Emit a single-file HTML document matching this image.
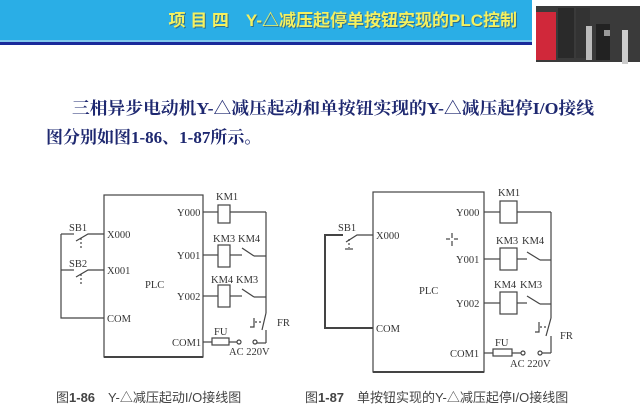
<!DOCTYPE html>
<html><head><meta charset="utf-8"><style>
body{margin:0;background:#fff;}
svg{display:block;}
</style></head><body>
<svg width="640" height="416" viewBox="0 0 640 416" xmlns="http://www.w3.org/2000/svg" font-family="Liberation Serif, serif">
<!-- header -->
<rect x="0" y="0" width="532" height="40" fill="#2aaee6"/>
<rect x="0" y="40" width="532" height="2" fill="#7fc8ee"/>
<rect x="0" y="42" width="532" height="3" fill="#1a2a9a"/>
<text x="517" y="26" text-anchor="end" font-family="Liberation Sans, 'Noto Sans CJK SC', sans-serif" font-weight="bold" font-size="17" fill="#333" opacity="0.5" transform="translate(1,1)">项 目 四　Y-△减压起停单按钮实现的PLC控制</text>
<text x="517" y="26" text-anchor="end" font-family="Liberation Sans, 'Noto Sans CJK SC', sans-serif" font-weight="bold" font-size="17" fill="#f4f060">项 目 四　Y-△减压起停单按钮实现的PLC控制</text>
<!-- PLC image -->
<rect x="536" y="6" width="104" height="56" fill="#3a3a3a"/>
<rect x="536" y="12" width="20" height="48" fill="#d0283a"/>
<rect x="558" y="8" width="16" height="50" fill="#2a2a2a"/>
<rect x="576" y="8" width="14" height="50" fill="#333"/>
<rect x="586" y="26" width="6" height="34" fill="#bbb"/>
<rect x="596" y="24" width="14" height="36" fill="#222"/>
<rect x="604" y="30" width="6" height="6" fill="#999"/>
<rect x="622" y="30" width="6" height="34" fill="#ccc"/>
<!-- intro text -->
<g font-family="Liberation Serif, 'Noto Serif CJK SC', serif" font-size="17" font-weight="bold" fill="#1e2870">
<text x="72" y="114" textLength="522" lengthAdjust="spacingAndGlyphs">三相异步电动机Y-△减压起动和单按钮实现的Y-△减压起停I/O接线</text>
<text x="46" y="143">图分别如图1-86、1-87所示。</text>
</g>
<!-- captions -->
<g font-family="Liberation Sans, 'Noto Sans CJK SC', sans-serif" font-size="13" fill="#444">
<text x="56" y="402">图<tspan font-weight="bold">1-86</tspan>　Y-△减压起动I/O接线图</text>
<text x="305" y="402">图<tspan font-weight="bold">1-87</tspan>　单按钮实现的Y-△减压起停I/O接线图</text>
</g>

<g stroke="#444" stroke-width="1.2" fill="none">
<!-- LEFT DIAGRAM -->
<rect x="104" y="195" width="99" height="162"/>
<line x1="104" y1="357" x2="203" y2="357" stroke-width="2"/>
<polyline points="104,234 88,234 76,241"/><line x1="61" y1="234" x2="74" y2="234"/>
<line x1="81" y1="238" x2="81" y2="250" stroke-dasharray="2,2"/>
<polyline points="104,270 88,270 76,277"/><line x1="61" y1="270" x2="74" y2="270"/>
<line x1="81" y1="274" x2="81" y2="286" stroke-dasharray="2,2"/>
<polyline points="61,234 61,318 104,318"/>
<line x1="203" y1="212" x2="218" y2="212"/><rect x="218" y="205" width="12" height="18"/><line x1="230" y1="212" x2="266" y2="212"/>
<line x1="203" y1="255" x2="218" y2="255"/><rect x="218" y="245" width="12" height="22"/><line x1="230" y1="255" x2="242" y2="255"/>
<line x1="242" y1="248" x2="254" y2="256"/><line x1="254" y1="256" x2="266" y2="256"/>
<line x1="203" y1="296" x2="218" y2="296"/><rect x="218" y="285" width="12" height="22"/><line x1="230" y1="296" x2="242" y2="296"/>
<line x1="242" y1="289" x2="254" y2="297"/><line x1="254" y1="297" x2="266" y2="297"/>
<line x1="266" y1="212" x2="266" y2="313"/>
<line x1="266" y1="313" x2="262" y2="330"/><line x1="266" y1="330" x2="266" y2="343"/>
<polyline points="254,318 254,327 250,327"/><line x1="255" y1="322" x2="262" y2="322" stroke-dasharray="2,2"/>
<line x1="266" y1="343" x2="257" y2="343"/>
<line x1="203" y1="342" x2="212" y2="342"/><rect x="212" y="338" width="17" height="7"/><line x1="229" y1="342" x2="237" y2="342"/>
<circle cx="239" cy="342" r="2"/><circle cx="255" cy="342" r="2"/>

<!-- RIGHT DIAGRAM -->
<rect x="373" y="192" width="111" height="180"/>
<line x1="373" y1="372" x2="484" y2="372" stroke-width="2"/>
<polyline points="373,235 357,235 346,242"/><polyline points="343,235 325,235 325,328 373,328" stroke-width="2"/>
<line x1="349" y1="239" x2="349" y2="248" stroke-dasharray="2,2"/>
<line x1="345" y1="249" x2="353" y2="249"/>
<line x1="484" y1="212" x2="500" y2="212"/><rect x="500" y="201" width="17" height="22"/><line x1="517" y1="212" x2="551" y2="212"/>
<line x1="484" y1="259" x2="500" y2="259"/><rect x="500" y="248" width="17" height="22"/><line x1="517" y1="259" x2="527" y2="259"/>
<line x1="527" y1="252" x2="540" y2="260"/><line x1="540" y1="260" x2="551" y2="260"/>
<line x1="484" y1="303" x2="500" y2="303"/><rect x="500" y="292" width="17" height="22"/><line x1="517" y1="303" x2="527" y2="303"/>
<line x1="527" y1="296" x2="540" y2="304"/><line x1="540" y1="304" x2="551" y2="304"/>
<line x1="551" y1="212" x2="551" y2="318"/>
<line x1="551" y1="318" x2="546" y2="336"/><line x1="551" y1="336" x2="551" y2="353"/>
<polyline points="539,322 539,332 535,332"/><line x1="540" y1="327" x2="547" y2="327" stroke-dasharray="2,2"/>
<line x1="551" y1="353" x2="542" y2="353"/>
<line x1="484" y1="353" x2="493" y2="353"/><rect x="493" y="349" width="19" height="7"/><line x1="512" y1="353" x2="521" y2="353"/>
<circle cx="523" cy="353" r="2"/><circle cx="540" cy="353" r="2"/>
<line x1="452" y1="233" x2="452" y2="238"/><line x1="452" y1="241" x2="452" y2="246"/><line x1="446" y1="239" x2="450" y2="239"/><line x1="454" y1="239" x2="458" y2="239"/>
</g>

<g font-size="10.5" fill="#333">
<text x="69" y="231">SB1</text><text x="69" y="267">SB2</text>
<text x="107" y="238">X000</text><text x="107" y="274">X001</text><text x="107" y="322">COM</text>
<text x="145" y="288">PLC</text>
<text x="177" y="216">Y000</text><text x="177" y="259">Y001</text><text x="177" y="300">Y002</text><text x="172" y="346">COM1</text>
<text x="216" y="200">KM1</text><text x="213" y="242">KM3</text><text x="238" y="242">KM4</text>
<text x="211" y="283">KM4</text><text x="236" y="283">KM3</text>
<text x="277" y="326">FR</text><text x="214" y="335">FU</text><text x="229" y="355">AC 220V</text>
<text x="338" y="231">SB1</text>
<text x="376" y="239">X000</text><text x="376" y="332">COM</text>
<text x="419" y="294">PLC</text>
<text x="456" y="216">Y000</text><text x="456" y="263">Y001</text><text x="456" y="307">Y002</text><text x="450" y="357">COM1</text>
<text x="498" y="196">KM1</text><text x="496" y="244">KM3</text><text x="522" y="244">KM4</text>
<text x="494" y="288">KM4</text><text x="520" y="288">KM3</text>
<text x="560" y="339">FR</text><text x="495" y="346">FU</text><text x="510" y="367">AC 220V</text>
</g>
</svg>
</body></html>
